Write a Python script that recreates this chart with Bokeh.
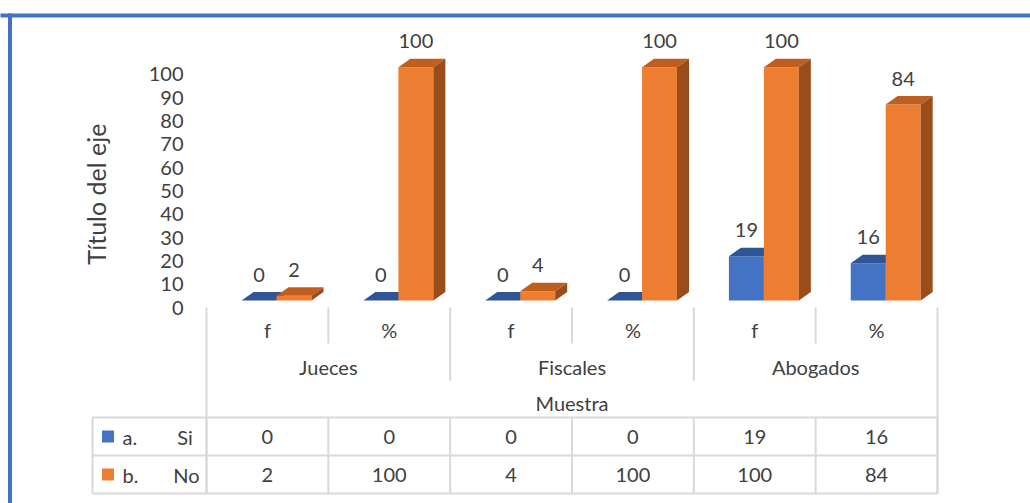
import math
from bokeh.plotting import figure
from bokeh.models import Range1d, LinearAxis, FixedTicker
from bokeh.core.properties import value
from bokeh.embed import file_html
from bokeh.resources import INLINE

# ---------------- data ----------------
groups = ["Jueces", "Fiscales", "Abogados"]
measures = ["f", "%", "f", "%", "f", "%"]
series_keys = ["a.", "b."]
series_names = ["Si", "No"]
si_values = [0, 0, 0, 0, 19, 16]
no_values = [2, 100, 4, 100, 100, 84]
y_ticks = [0, 10, 20, 30, 40, 50, 60, 70, 80, 90, 100]
y_title = "Título del eje"
x_title = "Muestra"

series_values = [si_values, no_values]

# ---------------- style ----------------
FONT = value("Lato")
TXT = "#404040"
GRID = "#D9D9D9"
BORDER = "#4472C4"
front_colors = ["#4472C4", "#ED7D31"]
top_colors = ["#2F5597", "#BF5E1F"]
side_colors = ["#2A4E8C", "#9A4C1A"]

# geometry (data units: 1 x-unit = one category column, y in value units)
BAR_OFF = 0.288
BAR_W = 0.287
DX = 0.0985
DY = 3.64
LIFT = 3.0
LABEL_GAP = 11.1

p = figure(width=1030, height=503,
           x_range=Range1d(-1.6909, 6.7635), y_range=Range1d(-84.01, 131.59),
           x_axis_type=None, y_axis_type=None,
           toolbar_location=None, output_backend="svg", min_border=0)
p.outline_line_color = None
p.background_fill_color = "white"
p.border_fill_color = "white"

# y axis (real axis, drawn at a fixed location inside the frame)
yax = LinearAxis(fixed_location=-0.156, ticker=FixedTicker(ticks=y_ticks),
                 axis_line_color=None, major_tick_line_color=None,
                 minor_tick_line_color=None, major_tick_out=0, major_tick_in=0,
                 minor_tick_out=0, minor_tick_in=0,
                 major_label_text_font="Lato", major_label_text_font_size="20px",
                 major_label_text_color=TXT, major_label_standoff=4)
p.add_layout(yax, "left")

# outer chart border (top and left visible)
p.segment(x0=[-1.7], y0=[125.2], x1=[6.9], y1=[125.2], line_color=BORDER, line_width=4)
p.segment(x0=[-1.613], y0=[126.0], x1=[-1.613], y1=[-90], line_color=BORDER, line_width=4)

# 3D-like bars
for s, vals in enumerate(series_values):
    lefts, rights, bottoms, tops = [], [], [], []
    top_xs, top_ys, side_xs, side_ys = [], [], [], []
    lab_x, lab_y, lab_t = [], [], []
    for i, v in enumerate(vals):
        x0 = i + BAR_OFF + s * BAR_W
        x1 = x0 + BAR_W
        b = LIFT
        t = v + LIFT
        lefts.append(x0); rights.append(x1); bottoms.append(b); tops.append(t)
        top_xs.append([x0, x1, x1 + DX, x0 + DX]); top_ys.append([t, t, t + DY, t + DY])
        side_xs.append([x1, x1 + DX, x1 + DX, x1]); side_ys.append([b, b + DY, t + DY, t])
        lab_x.append((x0 + x1) / 2); lab_y.append(t + LABEL_GAP); lab_t.append(str(v))
    p.quad(left=lefts, right=rights, bottom=bottoms, top=tops,
           fill_color=front_colors[s], line_color=None)
    p.patches(xs=top_xs, ys=top_ys, fill_color=top_colors[s], line_color=None)
    p.patches(xs=side_xs, ys=side_ys, fill_color=side_colors[s], line_color=None)
    p.text(x=lab_x, y=lab_y, text=lab_t, text_font=FONT, text_font_size="20px",
           text_color=TXT, text_align="center", text_baseline="middle")

# category axis separators
n = len(measures)
short_x = [i for i in range(1, n) if i % 2 == 1]
long_x = [i for i in range(2, n) if i % 2 == 0]
p.segment(x0=short_x, y0=[0] * len(short_x), x1=short_x, y1=[-15.4] * len(short_x),
          line_color=GRID, line_width=2)
p.segment(x0=long_x, y0=[0] * len(long_x), x1=long_x, y1=[-31.3] * len(long_x),
          line_color=GRID, line_width=2)
p.segment(x0=[0, n], y0=[0, 0], x1=[0, n], y1=[-79.7, -79.7], line_color=GRID, line_width=2)

# category labels
p.text(x=[i + 0.5 for i in range(n)], y=[-9.43] * n, text=measures, text_font=FONT,
       text_font_size="20px", text_color=TXT, text_align="center", text_baseline="middle")
p.text(x=[2 * g + 1 for g in range(len(groups))], y=[-25.7] * len(groups), text=groups,
       text_font=FONT, text_font_size="20px", text_color=TXT, text_align="center",
       text_baseline="middle")
p.text(x=[n / 2], y=[-41.1], text=[x_title], text_font=FONT, text_font_size="20px",
       text_color=TXT, text_align="center", text_baseline="middle")

# axis title
p.text(x=[-0.903], y=[48.6], text=[y_title], angle=math.pi / 2, text_font=FONT,
       text_font_size="25px", text_color=TXT, text_align="center", text_baseline="middle")

# data table
TL = -0.936
row_lines = [-47.1, -63.4, -79.7]
p.segment(x0=[TL] * 3, y0=row_lines, x1=[n] * 3, y1=row_lines, line_color=GRID, line_width=2)
vcols = [TL] + list(range(0, n + 1))
p.segment(x0=vcols, y0=[-47.1] * len(vcols), x1=vcols, y1=[-79.7] * len(vcols),
          line_color=GRID, line_width=2)
row_y = [-55.3, -71.6]
for s, vals in enumerate(series_values):
    p.text(x=[i + 0.5 for i in range(n)], y=[row_y[s]] * n, text=[str(v) for v in vals],
           text_font=FONT, text_font_size="20px", text_color=TXT, text_align="center",
           text_baseline="middle")
p.scatter(x=[-0.8087, -0.8087], y=row_y, marker="square", size=12,
          fill_color=front_colors, line_color=None)
p.text(x=[-0.6895, -0.6895], y=row_y, text=series_keys, text_font=FONT,
       text_font_size="20px", text_color=TXT, text_align="left", text_baseline="middle")
p.text(x=[-0.1765, -0.164], y=row_y, text=series_names, text_font=FONT,
       text_font_size="20px", text_color=TXT, text_align="center", text_baseline="middle")

open("out.html", "w").write(file_html(p, INLINE))
